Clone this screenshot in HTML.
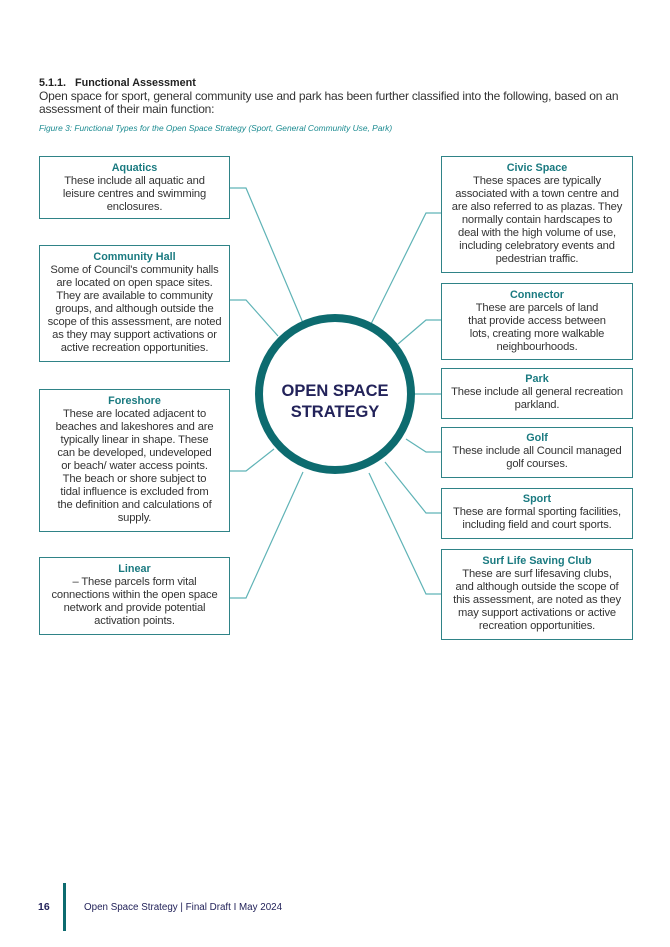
<!DOCTYPE html>
<html><head><meta charset="utf-8"><style>
body{margin:0;width:670px;height:947px;background:#fff;position:relative;font-family:"Liberation Sans",sans-serif;color:#333;overflow:hidden}
.abs{position:absolute}
.box{position:absolute;border:1.3px solid #2f8387;box-sizing:border-box;text-align:center;font-size:11.2px;line-height:13px;padding-top:5px;background:#fff;white-space:nowrap;letter-spacing:-0.15px}
.box b{color:#1a7a80;display:block;font-size:10.8px;letter-spacing:0}
</style></head><body>
<div class="abs" style="left:39px;top:77px;font-size:10.8px;font-weight:bold;color:#222">5.1.1.&nbsp;&nbsp; Functional Assessment</div>
<div class="abs" style="left:39px;top:90px;font-size:12px;line-height:12.5px;color:#333;white-space:nowrap;letter-spacing:-0.2px">Open space for sport, general community use and park has been further classified into the following, based on an<br>assessment of their main function:</div>
<div class="abs" style="left:39px;top:123px;font-size:8.4px;font-style:italic;color:#1a8a90;white-space:nowrap">Figure 3: Functional Types for the Open Space Strategy (Sport, General Community Use, Park)</div>

<svg class="abs" style="left:0;top:0" width="670" height="947">
<g stroke="#5fb3b6" stroke-width="1.2" fill="none">
<polyline points="229,188 246,188 303,323"/>
<polyline points="229,300 246,300 278,336"/>
<polyline points="229,471 246,471 274,449"/>
<polyline points="229,598 246,598 303,472"/>
<polyline points="441,213 426,213 371,324"/>
<polyline points="441,320 426,320 398,344"/>
<polyline points="441,394 415,394"/>
<polyline points="441,452 426,452 406,439"/>
<polyline points="441,513 426,513 385,462"/>
<polyline points="441,594 426,594 369,473"/>
</g>
<circle cx="335" cy="394" r="76" fill="#fff" stroke="#0d6b6f" stroke-width="8"/>
<text x="335" y="396" text-anchor="middle" font-family="Liberation Sans" font-weight="bold" font-size="16.5" fill="#23235a">OPEN SPACE</text>
<text x="335" y="417" text-anchor="middle" font-family="Liberation Sans" font-weight="bold" font-size="16.5" fill="#23235a">STRATEGY</text>
<rect x="63" y="883" width="3" height="48" fill="#0d6b6f"/>
</svg>

<div class="box" style="left:39px;top:156px;width:191px;height:63px"><b>Aquatics</b>These include all aquatic and<br>leisure centres and swimming<br>enclosures.</div>
<div class="box" style="left:39px;top:245px;width:191px;height:117px"><b>Community Hall</b>Some of Council's community halls<br>are located on open space sites.<br>They are available to community<br>groups, and although outside the<br>scope of this assessment, are noted<br>as they may support activations or<br>active recreation opportunities.</div>
<div class="box" style="left:39px;top:389px;width:191px;height:143px"><b>Foreshore</b>These are located adjacent to<br>beaches and lakeshores and are<br>typically linear in shape. These<br>can be developed, undeveloped<br>or beach/ water access points.<br>The beach or shore subject to<br>tidal influence is excluded from<br>the definition and calculations of<br>supply.</div>
<div class="box" style="left:39px;top:557px;width:191px;height:78px"><b>Linear</b>– These parcels form vital<br>connections within the open space<br>network and provide potential<br>activation points.</div>

<div class="box" style="left:441px;top:156px;width:192px;height:117px"><b>Civic Space</b>These spaces are typically<br>associated with a town centre and<br>are also referred to as plazas. They<br>normally contain hardscapes to<br>deal with the high volume of use,<br>including celebratory events and<br>pedestrian traffic.</div>
<div class="box" style="left:441px;top:283px;width:192px;height:77px"><b>Connector</b>These are parcels of land<br>that provide access between<br>lots, creating more walkable<br>neighbourhoods.</div>
<div class="box" style="left:441px;top:368px;width:192px;height:51px;padding-top:4px"><b>Park</b>These include all general recreation<br>parkland.</div>
<div class="box" style="left:441px;top:427px;width:192px;height:51px;padding-top:4px"><b>Golf</b>These include all Council managed<br>golf courses.</div>
<div class="box" style="left:441px;top:488px;width:192px;height:51px;padding-top:4px"><b>Sport</b>These are formal sporting facilities,<br>including field and court sports.</div>
<div class="box" style="left:441px;top:549px;width:192px;height:91px"><b>Surf Life Saving Club</b>These are surf lifesaving clubs,<br>and although outside the scope of<br>this assessment, are noted as they<br>may support activations or active<br>recreation opportunities.</div>

<div class="abs" style="left:38px;top:901px;font-size:10.5px;font-weight:bold;color:#23235a">16</div>
<div class="abs" style="left:84px;top:902px;font-size:9.8px;color:#23235a">Open Space Strategy | Final Draft I May 2024</div>
</body></html>
